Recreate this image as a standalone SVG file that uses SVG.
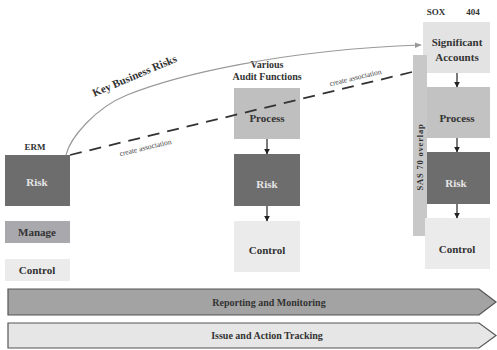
<svg xmlns="http://www.w3.org/2000/svg" width="497" height="350" viewBox="0 0 497 350">
<defs>
<style>
text{font-family:"Liberation Serif","DejaVu Serif",serif;font-weight:bold;text-anchor:middle;fill:#333}
.lbl{font-size:10px}
.box{font-size:11px}
.wt{fill:#e6e6e6}
.sm{font-size:7.5px;font-weight:normal;fill:#444}
.dark{fill:#6d6d6d}
.mid{fill:#bfbfbf}
.light{fill:#ebebeb}
.flow{stroke:#222;stroke-width:1.2;fill:none;marker-end:url(#ah)}
</style>
<marker id="ah" viewBox="0 0 10 10" refX="9" refY="5" markerWidth="6" markerHeight="6" orient="auto" markerUnits="userSpaceOnUse"><path d="M0,0 L10,5 L0,10 z" fill="#222"/></marker>
<marker id="ahg" viewBox="0 0 10 10" refX="9" refY="5" markerWidth="7" markerHeight="7" orient="auto" markerUnits="userSpaceOnUse"><path d="M0,1 L10,5 L0,9 z" fill="#999"/></marker>
</defs>
<rect width="497" height="350" fill="#fff"/>

<g id="bands">
<g id="reporting">
<path d="M8,289 H479 L496,302 L479,315 H8 Z" fill="#a3a3a3" stroke="#555" stroke-width="1.2"/>
<text x="269" y="306" class="lbl">Reporting and Monitoring</text>
</g>
<g id="issue">
<path d="M8,323 H479 L496,335.5 L479,348 H8 Z" fill="#e6e6e6" stroke="#555" stroke-width="1.2"/>
<text x="267" y="339" class="lbl">Issue and Action Tracking</text>
</g>
</g>

<g id="erm">
<text x="35" y="150" font-size="9">ERM</text>
<g id="erm-risk"><rect x="5" y="155" width="65" height="51" class="dark"/><text x="37" y="186" class="box wt">Risk</text></g>
<g id="erm-manage"><rect x="5" y="221" width="65" height="22" fill="#a9a8ad"/><text x="37" y="236" class="box">Manage</text></g>
<g id="erm-control"><rect x="5" y="259" width="65" height="22" class="light"/><text x="37" y="274" class="box">Control</text></g>
</g>

<g id="audit">
<text x="267" y="68" class="lbl">Various</text>
<text x="267" y="80" class="lbl">Audit Functions</text>
<g id="audit-process"><rect x="234" y="88" width="66" height="51" class="mid"/><text x="267" y="122" class="box">Process</text></g>
<g id="audit-risk"><rect x="234" y="154" width="66" height="52" class="dark"/><text x="267" y="188" class="box wt">Risk</text></g>
<g id="audit-control"><rect x="234" y="221" width="66" height="51" class="light"/><text x="267" y="254" class="box">Control</text></g>
</g>

<g id="sox">
<text x="436" y="15" font-size="9">SOX</text>
<text x="473" y="15" font-size="9">404</text>
<g id="sox-accounts"><rect x="423" y="22" width="67" height="51" fill="#e3e3e3"/><text x="457" y="46" class="box">Significant</text><text x="457" y="61" class="box">Accounts</text></g>
<g id="sas70"><rect x="413" y="55" width="14" height="181" fill="#c8c8c8"/><text transform="translate(423,157) rotate(-90)" font-size="8.5" letter-spacing="0.8">SAS 70 overlap</text></g>
<g id="sox-process"><rect x="427" y="87" width="63" height="51" fill="#c2c2c2"/><text x="457" y="122" class="box">Process</text></g>
<g id="sox-risk"><rect x="427" y="152" width="63" height="52" class="dark"/><text x="456" y="187" class="box wt">Risk</text></g>
<g id="sox-control"><rect x="425" y="218" width="65" height="51" class="light"/><text x="457" y="253" class="box">Control</text></g>
</g>

<g id="connectors">
<path d="M66,155 C70,138 95,108 127,95 C175,75.5 280,50 421,45" stroke="#999" stroke-width="1.2" fill="none" marker-end="url(#ahg)"/>
<text transform="translate(136,79) rotate(-23)" font-size="11">Key Business Risks</text>
<path d="M70,155 L412,72" stroke="#333" stroke-width="1.8" stroke-dasharray="12,8" fill="none"/>
<text transform="translate(146,150) rotate(-13.5)" class="sm">create association</text>
<text transform="translate(356,80) rotate(-13.5)" class="sm">create association</text>
<path d="M267,139 V154" class="flow"/>
<path d="M267,206 V221" class="flow"/>
<path d="M457,73 V87" class="flow"/>
<path d="M457,138 V152" class="flow"/>
<path d="M457,204 V218" class="flow"/>
</g>
</svg>
